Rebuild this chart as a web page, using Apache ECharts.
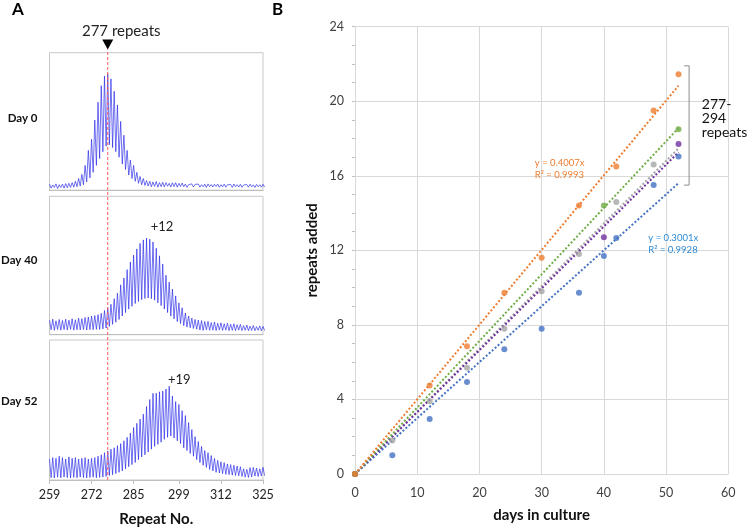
<!DOCTYPE html>
<html><head><meta charset="utf-8">
<script src="https://cdn.jsdelivr.net/npm/echarts@6/dist/echarts.min.js"></script>
<style>html,body{margin:0;padding:0;background:#fff}#c{width:750px;height:528px}</style>
</head><body><div id="c"></div>
<script>
// ---------- Panel A data (signal height in % of panel, one peak per repeat) ----------
const repeatStart = 259;
const repeatTicks = [259, 272, 285, 299, 312, 325];
const markerRepeat = 277;
const markerLabel = '277 repeats';
const dayLabels = ['Day 0', 'Day 40', 'Day 52'];
const shiftLabels = ['', '+12', '+19'];
const shiftLabelAt = [null, [293.8, 77.6], [299.1, 71.9]];

const day0Peaks = [4.5,3.8,4.6,4.0,4.4,4.8,5,5.5,6.5,8.5,11.5,18,29,37,51,64,76,83,85,81,72,62,50,40,29,22,18,13,10,8.5,7,6.5,
  6,6.3,5.5,5.8,5.5,5,5.4,5.5,5,5.2,
  4.5,4,4.6,4.2,4.5,4.0,4.4,4.6,4.1,4.3,4.5,4.0,4.4,3.9,4.2,4.5,4.0,4.3,3.8,4.1,4.4,3.9,4.2,4.0,4.3];
const day0Troughs = [1.5,2,1.2,2,1.5,1.8,2,2.2,2.5,3,4,6,9,13,18,23,28,32,33,31,28,24,19,15,11,8.5,6.5,5,4,3.5,3,
  2.5,2.8,2.2,2.6,2.4,2.9,2.3,2.6,2.2,2.7,2.5,2.1,2.6,2.3,2.8,2.2,2.5,2.0,2.6,2.3,2.7,2.1,2.4,2.2,2.6,2.0,2.5,2.3,2.1,2.6,2.2,2.4,2.0,2.5,2.2,2.3];
const day40Peaks = [10.5,11.2,10,11,10.3,11.2,10.5,11.5,10.8,12,11.6,12.5,12.8,13.5,13.8,14.5,15.5,17.5,19.5,22,26,30,36,41,47,52.5,57.5,62,66,68.5,69.8,69,67,62.5,57,51,43,38,33,28,23,19.5,15.7,13.5,12,11,10.5,10.2,9.5,9.6,8.8,9.2,8.3,8.6,7.9,8.3,7.6,7.9,7.2,7.5,6.6,7,6.2,6.6,5.8,6.3,6];
const day40Troughs = [3.6,3.2,3.8,3.3,3.7,3.4,3.9,3.3,3.6,3.5,3.8,3.4,3.7,3.6,3.9,3.8,4.2,4.8,6,7.5,9,11,13.5,16,18.5,20.5,22.5,24,25.3,26.2,26.5,26,25,23,21,18.5,16,13.5,11.5,9.5,8,6.5,5.5,5,4.5,4,
  3.4,3.1,3.5,3.2,3.3,3.0,3.4,3.1,3.3,3.0,3.2,2.9,3.3,3.0,3.2,2.8,3.1,2.9,3.2,2.8,3.0];
const day52Peaks = [15,16,15.5,17,16,15,16.5,15.5,16,15,15.5,16,15,15.5,16,17,18,19.5,20.7,22,23,24.5,26,28,30.5,33.5,37.5,40.5,43.5,47,52.5,57.5,61.9,62,63,63.5,65,67,60,56,54,49.5,46,41,36,31,27.5,24,21,19.5,17.5,15.5,14,13,12.4,11.5,11,10.5,10,9.5,8,7.6,8.8,9,8.5,8,9];
const day52Troughs = [1.7,1.5,2.0,1.6,2.2,1.7,1.5,1.9,1.6,2.1,1.7,1.5,1.8,2.0,1.6,1.9,2.1,2.5,3.2,3.8,4.5,5.5,6.5,8,9.5,11,12.5,14.5,16.5,18,20,22,24,25.5,27,29,30.5,31.4,30,28,26,23,21,19,17,14.5,12.5,10.5,9,7.5,6.5,5.5,5,4.5,4,3.8,3.5,3.2,3,2.5,2,1.8,2.2,2.8,2.5,2.9,3];

// ---------- Panel B data ----------
const orangeDays = [0, 12, 18, 24, 30, 36, 42, 48, 52];
const orangeVals = [0, 4.75, 6.85, 9.73, 11.6, 14.4, 16.5, 19.5, 21.45];
const greenDays = [0, 40, 52];
const greenVals = [0, 14.4, 18.5];
const greyDays = [6, 12, 18, 24, 30, 36, 42, 48];
const greyVals = [1.8, 3.9, 5.7, 7.8, 9.8, 11.8, 14.6, 16.6];
const purpleDays = [0, 40, 52];
const purpleVals = [0, 12.7, 17.7];
const blueDays = [0, 6, 12, 18, 24, 30, 36, 40, 42, 48, 52];
const blueVals = [0, 1.0, 2.95, 4.93, 6.7, 7.8, 9.73, 11.7, 12.66, 15.5, 17.03];
// trendline slopes (through origin), drawn from day 0 to day 52
const trendSlopes = {orange: 0.4007, green: 0.357, grey: 0.336, purple: 0.332, blue: 0.3001};
const trendEndDay = 52;
const orangeEq = 'y = 0.4007x\nR² = 0.9993';
const blueEq = 'y = 0.3001x\nR² = 0.9928';
const bracket = [[52.9, 21.9], [53.7, 21.9], [53.7, 15.5], [52.9, 15.5]];
const bracketText = '277-\n294\nrepeats';

const COLORS = {orange:'#ED7D31', green:'#70AD47', grey:'#A5A5A5', purple:'#7030A0', blue:'#4472C4'};
const FONT = 'Lato, "Open Sans", sans-serif';
const RED = '#ff5c5c';

function trace(peaks, troughs) {
  const d = [];
  for (let i = 0; i < peaks.length; i++) {
    d.push([repeatStart + i, peaks[i]]);
    d.push([repeatStart + i + 0.5, troughs[i]]);
  }
  return d;
}
function zip(xs, ys) { return xs.map((x, i) => [x, ys[i]]); }
function trend(k) { return [[0, 0], [trendEndDay, trendSlopes[k] * trendEndDay]]; }

const chart = echarts.init(document.getElementById('c'), null, {renderer: 'canvas'});

const boxTops = [52.7, 196.3, 340];
const boxHeights = [137.5, 138.4, 140];
const grids = boxTops.map((t, i) => ({left: 49.5, width: 213.5, top: t, height: boxHeights[i], show: true, borderColor: '#c8c8c8', borderWidth: 1}));
grids.push({left: 49.5, width: 213.5, top: 49.5, height: 430.5}); // overlay for marker
grids.push({left: 355, top: 26.7, width: 373.3, height: 450});  // panel B

const xAxes = [0,1,2].map(i => ({
  type: 'value', gridIndex: i, min: 259, max: 325,
  axisLine: {show: true, lineStyle: {color: '#bdbdbd'}},
  axisTick: {show: i === 2, customValues: repeatTicks, length: 4, lineStyle: {color: '#bdbdbd'}},
  axisLabel: {show: i === 2, customValues: repeatTicks, fontSize: 12.5, color: '#222', margin: 8, fontFamily: FONT},
  splitLine: {show: false},
  name: i === 2 ? 'Repeat No.' : '', nameLocation: 'middle', nameGap: 32,
  nameTextStyle: {fontSize: 15, fontWeight: 'bold', color: '#111', fontFamily: FONT}
}));
xAxes.push({type: 'value', gridIndex: 3, min: 259, max: 325, show: false});
xAxes.push({
  type: 'value', gridIndex: 4, min: 0, max: 60, interval: 10,
  axisLine: {show: false}, axisTick: {show: false},
  axisLabel: {fontSize: 12.5, color: '#404040', margin: 12, fontFamily: FONT},
  splitLine: {show: true, lineStyle: {color: '#d9d9d9'}},
  name: 'days in culture', nameLocation: 'middle', nameGap: 34,
  nameTextStyle: {fontSize: 15, fontWeight: 'bold', color: '#111', fontFamily: FONT}
});
const yAxes = [0,1,2,3].map(i => ({type: 'value', gridIndex: i, min: 0, max: 100, show: false}));
yAxes.push({
  type: 'value', gridIndex: 4, min: 0, max: 24, interval: 4,
  axisLine: {show: false},
  axisTick: {show: true, length: 3, lineStyle: {color: '#bfbfbf'}},
  minorTick: {show: true, splitNumber: 4, length: 3, lineStyle: {color: '#bfbfbf'}},
  axisLabel: {fontSize: 12.5, color: '#404040', margin: 11, fontFamily: FONT},
  splitLine: {show: true, lineStyle: {color: '#d9d9d9'}},
  name: 'repeats added', nameLocation: 'middle', nameGap: 35,
  nameTextStyle: {fontSize: 15, fontWeight: 'bold', color: '#111', fontFamily: FONT}
});

const traces = [[day0Peaks, day0Troughs], [day40Peaks, day40Troughs], [day52Peaks, day52Troughs]];
const series = traces.map((t, i) => {
  const s = {
    type: 'line', xAxisIndex: i, yAxisIndex: i, data: trace(t[0], t[1]),
    showSymbol: false, symbol: 'none', clip: true,
    lineStyle: {color: '#2424e8', width: 0.65}, animation: false, silent: true
  };
  if (shiftLabelAt[i]) {
    s.markPoint = {silent: true, animation: false, data: [{coord: shiftLabelAt[i], symbolSize: 0,
      label: {show: true, position: 'inside', formatter: shiftLabels[i], fontSize: 13, color: '#222', fontFamily: FONT}}]};
  }
  return s;
});
// 277-repeat reference line across the three traces (overlay grid spans all three boxes)
series.push({
  type: 'line', xAxisIndex: 3, yAxisIndex: 3, data: [[markerRepeat, 0], [markerRepeat, 100]],
  symbol: 'none', z: 10, animation: false, silent: true, clip: false,
  itemStyle: {color: RED},
  lineStyle: {color: RED, type: [3, 2], width: 1, opacity: 1},
  markPoint: {silent: true, animation: false, data: [
    {coord: [markerRepeat, 100], symbol: 'path://M0,0 L10,0 L5,9 Z', symbolSize: [11, 10], symbolOffset: [0, -5],
      itemStyle: {color: '#000'}, label: {show: false}},
    {coord: [markerRepeat, 100], symbolSize: 0,
      label: {show: true, position: 'inside', offset: [13.5, -18], formatter: markerLabel, fontSize: 15, color: '#222', fontFamily: FONT}}
  ]}
});

// Panel B trendlines
['grey', 'blue', 'purple', 'green', 'orange'].forEach(k => {
  const s = {type: 'line', xAxisIndex: 4, yAxisIndex: 4, data: trend(k), symbol: 'none', animation: false, silent: true,
    lineStyle: {color: COLORS[k], width: 2, type: 'dotted'}};
  if (k === 'orange') s.markPoint = {silent: true, data: [{coord: [28.9, 16.36], symbolSize: 0,
    label: {show: true, position: 'inside', align: 'left', formatter: orangeEq, fontSize: 9.5, lineHeight: 12, color: COLORS.orange, fontFamily: FONT}}]};
  if (k === 'blue') s.markPoint = {silent: true, data: [{coord: [47.15, 12.35], symbolSize: 0,
    label: {show: true, position: 'inside', align: 'left', formatter: blueEq, fontSize: 9.5, lineHeight: 12, color: '#2E8BD6', fontFamily: FONT}}]};
  series.push(s);
});
// Panel B points
[['grey', greyDays, greyVals], ['blue', blueDays, blueVals], ['purple', purpleDays, purpleVals],
 ['green', greenDays, greenVals], ['orange', orangeDays, orangeVals]].forEach(([k, xs, ys]) => {
  series.push({type: 'scatter', xAxisIndex: 4, yAxisIndex: 4, data: zip(xs, ys), symbolSize: 6,
    itemStyle: {color: COLORS[k]}, animation: false, z: 5});
});
// bracket
series.push({type: 'line', xAxisIndex: 4, yAxisIndex: 4, data: bracket, symbol: 'none', animation: false, silent: true,
  lineStyle: {color: '#8c8c8c', width: 1},
  markPoint: {silent: true, data: [{coord: [55.75, 19.05], symbolSize: 0,
    label: {show: true, position: 'inside', align: 'left', formatter: bracketText, fontSize: 14, lineHeight: 14, color: '#111', fontFamily: FONT}}]}
});

const graphic = [
  {type: 'text', left: 12, top: 1, style: {text: 'A', font: 'bold 17px ' + FONT, fill: '#000'}},
  {type: 'text', left: 272, top: 1, style: {text: 'B', font: 'bold 17px ' + FONT, fill: '#000'}}
];
const dayCenters = [118.3, 260, 401.7];
dayLabels.forEach((t, i) => graphic.push({type: 'text', x: 37.5, y: dayCenters[i],
  style: {text: t, font: 'bold 11.5px ' + FONT, fill: '#111', textAlign: 'right', textVerticalAlign: 'middle'}}));

chart.setOption({animation: false, textStyle: {fontFamily: FONT}, grid: grids, xAxis: xAxes, yAxis: yAxes, series, graphic});
</script></body></html>
